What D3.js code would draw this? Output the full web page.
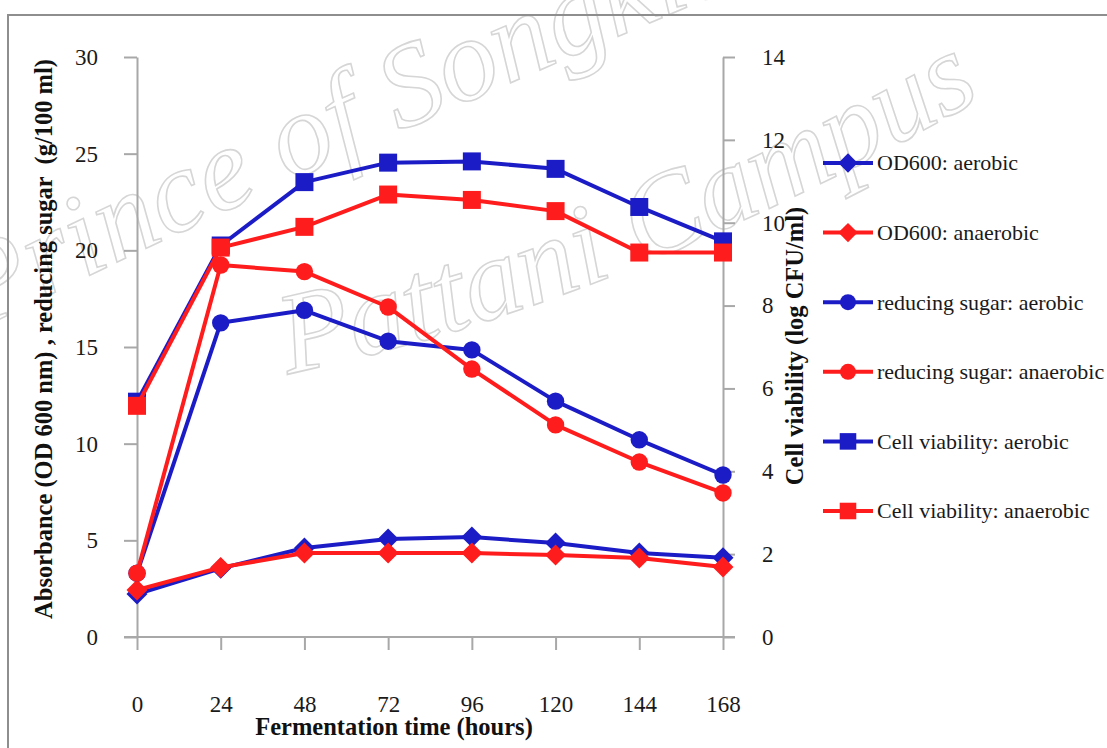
<!DOCTYPE html>
<html>
<head>
<meta charset="utf-8">
<script src="https://cdn.jsdelivr.net/npm/d3@7"></script>
<style>
  body { margin: 0; background: #fff; }
  svg { display: block; }
</style>
</head>
<body>
<svg id="chart" width="1107" height="748"></svg>
<script>
// Fermentation time points (hours)
const hours = [0, 24, 48, 72, 96, 120, 144, 168];

// Absorbance at 600 nm
const odAerobic   = [2.22, 3.55, 4.6, 5.07, 5.17, 4.86, 4.34, 4.1];
const odAnaerobic = [2.43, 3.6, 4.34, 4.34, 4.34, 4.24, 4.09, 3.62];

// Reducing sugar (g/100 ml)
const sugarAerobic   = [3.3, 16.25, 16.9, 15.3, 14.85, 12.2, 10.2, 8.38];
const sugarAnaerobic = [3.3, 19.24, 18.9, 17.07, 13.86, 10.97, 9.05, 7.45];

// Cell viability (log CFU/ml), right axis
const viabilityAerobic   = [5.68, 9.45, 10.98, 11.45, 11.48, 11.3, 10.38, 9.55];
const viabilityAnaerobic = [5.58, 9.4, 9.9, 10.68, 10.55, 10.28, 9.28, 9.28];

const leftTicks  = [0, 5, 10, 15, 20, 25, 30];
const rightTicks = [0, 2, 4, 6, 8, 10, 12, 14];

const seriesNames = [
  "OD600: aerobic",
  "OD600: anaerobic",
  "reducing sugar: aerobic",
  "reducing sugar: anaerobic",
  "Cell viability: aerobic",
  "Cell viability: anaerobic"
];

const BLUE = "#1c1cc6";
const RED = "#ff1c1c";

const series = [
  { name: seriesNames[0], values: odAerobic,          axis: "left",  shape: "diamond", color: BLUE },
  { name: seriesNames[1], values: odAnaerobic,        axis: "left",  shape: "diamond", color: RED },
  { name: seriesNames[2], values: sugarAerobic,       axis: "left",  shape: "circle",  color: BLUE },
  { name: seriesNames[3], values: sugarAnaerobic,     axis: "left",  shape: "circle",  color: RED },
  { name: seriesNames[4], values: viabilityAerobic,   axis: "right", shape: "square",  color: BLUE },
  { name: seriesNames[5], values: viabilityAnaerobic, axis: "right", shape: "square",  color: RED }
];

const svg = d3.select("#chart");
const serif = "'Liberation Serif', 'Times New Roman', serif";

// Plot area
const plot = { left: 137, right: 723, top: 57, bottom: 637 };

const x  = d3.scaleLinear().domain([0, 168]).range([plot.left, plot.right]);
const yL = d3.scaleLinear().domain([0, 30]).range([plot.bottom, plot.top]);
const yR = d3.scaleLinear().domain([0, 14]).range([plot.bottom, plot.top]);

// Faint outlined watermark behind the chart
const defs = svg.append("defs");
defs.append("path").attr("id", "wm1")
  .attr("d", "M -22,330 Q 340,150 800,-40");
defs.append("path").attr("id", "wm2")
  .attr("d", "M 288,374 Q 640,300 1030,70");
const wm = svg.append("g")
  .attr("font-family", serif)
  .attr("font-style", "italic")
  .attr("fill", "none")
  .attr("stroke", "#d6d6d6")
  .attr("stroke-width", 1.6);
wm.append("text").attr("font-size", 118)
  .append("textPath").attr("href", "#wm1")
  .text("Prince of Songkla University");
wm.append("text").attr("font-size", 116)
  .append("textPath").attr("href", "#wm2")
  .text("Pattani Campus");

// Frame
svg.append("path")
  .attr("d", "M 8,760 L 8,15 L 1120,15")
  .attr("fill", "none")
  .attr("stroke", "#8e8e8e")
  .attr("stroke-width", 2);

// Axes
const axisColor = "#a8a8a8";

const gL = svg.append("g")
  .attr("transform", `translate(${plot.left},0)`)
  .call(d3.axisLeft(yL).tickValues(leftTicks).tickSize(13).tickSizeOuter(0).tickPadding(26));

const gR = svg.append("g")
  .attr("transform", `translate(${plot.right},0)`)
  .call(d3.axisRight(yR).tickValues(rightTicks).tickSize(12).tickSizeOuter(0).tickPadding(27));

const gX = svg.append("g")
  .attr("transform", `translate(0,${plot.bottom})`)
  .call(d3.axisBottom(x).tickValues(hours).tickSize(13).tickSizeOuter(0).tickPadding(46));

[gL, gR, gX].forEach(g => {
  g.attr("font-family", serif);
  g.selectAll("path.domain").attr("stroke", axisColor).attr("stroke-width", 2);
  g.selectAll(".tick line").attr("stroke", axisColor).attr("stroke-width", 2);
  g.selectAll(".tick text")
    .attr("font-family", serif)
    .attr("font-size", 23)
    .attr("fill", "#1a1a1a");
});
gX.select("path.domain").remove();
svg.append("line")
  .attr("x1", plot.left - 13).attr("x2", plot.right + 12)
  .attr("y1", plot.bottom).attr("y2", plot.bottom)
  .attr("stroke", axisColor).attr("stroke-width", 2);

// Axis titles
svg.append("text")
  .attr("x", 394).attr("y", 735)
  .attr("text-anchor", "middle")
  .attr("font-family", serif).attr("font-weight", "bold").attr("font-size", 24.5)
  .attr("fill", "#111")
  .text("Fermentation time (hours)");

svg.append("text")
  .attr("transform", "translate(52,339) rotate(-90)")
  .attr("text-anchor", "middle")
  .attr("font-family", serif).attr("font-weight", "bold").attr("font-size", 24.5)
  .attr("fill", "#111")
  .attr("xml:space", "preserve")
  .text("Absorbance (OD 600 nm) , reducing sugar  (g/100 ml)");

svg.append("text")
  .attr("transform", "translate(803,346) rotate(-90)")
  .attr("text-anchor", "middle")
  .attr("font-family", serif).attr("font-weight", "bold").attr("font-size", 24.5)
  .attr("fill", "#111")
  .text("Cell viability (log CFU/ml)");

// Marker path generators
function markerPath(shape, scale) {
  if (shape === "square")  return d3.symbol(d3.symbolSquare, 18 * 18 * scale * scale)();
  if (shape === "circle")  return d3.symbol(d3.symbolCircle, Math.PI * 8.7 * 8.7 * scale * scale)();
  // diamond: a square turned 45 degrees
  const h = 10.5 * scale;
  return `M0,${-h}L${h},0L0,${h}L${-h},0Z`;
}

// Series lines and markers
const lines = svg.append("g");
series.forEach(s => {
  const yScale = s.axis === "left" ? yL : yR;
  const pts = hours.map((h, i) => [x(h), yScale(s.values[i])]);
  const g = lines.append("g");
  g.append("path")
    .attr("d", d3.line()(pts))
    .attr("fill", "none")
    .attr("stroke", s.color)
    .attr("stroke-width", 4)
    .attr("stroke-linejoin", "round");
  g.selectAll("path.mk")
    .data(pts)
    .join("path")
    .attr("class", "mk")
    .attr("transform", d => `translate(${d[0]},${d[1]})`)
    .attr("d", markerPath(s.shape, 1))
    .attr("fill", s.color);
});

// Legend
const legendY = d3.scalePoint().domain(seriesNames).range([163, 511]);
const legend = svg.append("g");
series.forEach(s => {
  const yy = legendY(s.name);
  const g = legend.append("g").attr("transform", `translate(0,${yy})`);
  g.append("line")
    .attr("x1", 823).attr("x2", 873)
    .attr("stroke", s.color).attr("stroke-width", 4);
  g.append("path")
    .attr("transform", "translate(848,0)")
    .attr("d", markerPath(s.shape, 0.92))
    .attr("fill", s.color);
  g.append("text")
    .attr("x", 877).attr("dy", "0.34em")
    .attr("font-family", serif).attr("font-size", 22)
    .attr("fill", "#1a1a1a")
    .text(s.name);
});
</script>
</body>
</html>
